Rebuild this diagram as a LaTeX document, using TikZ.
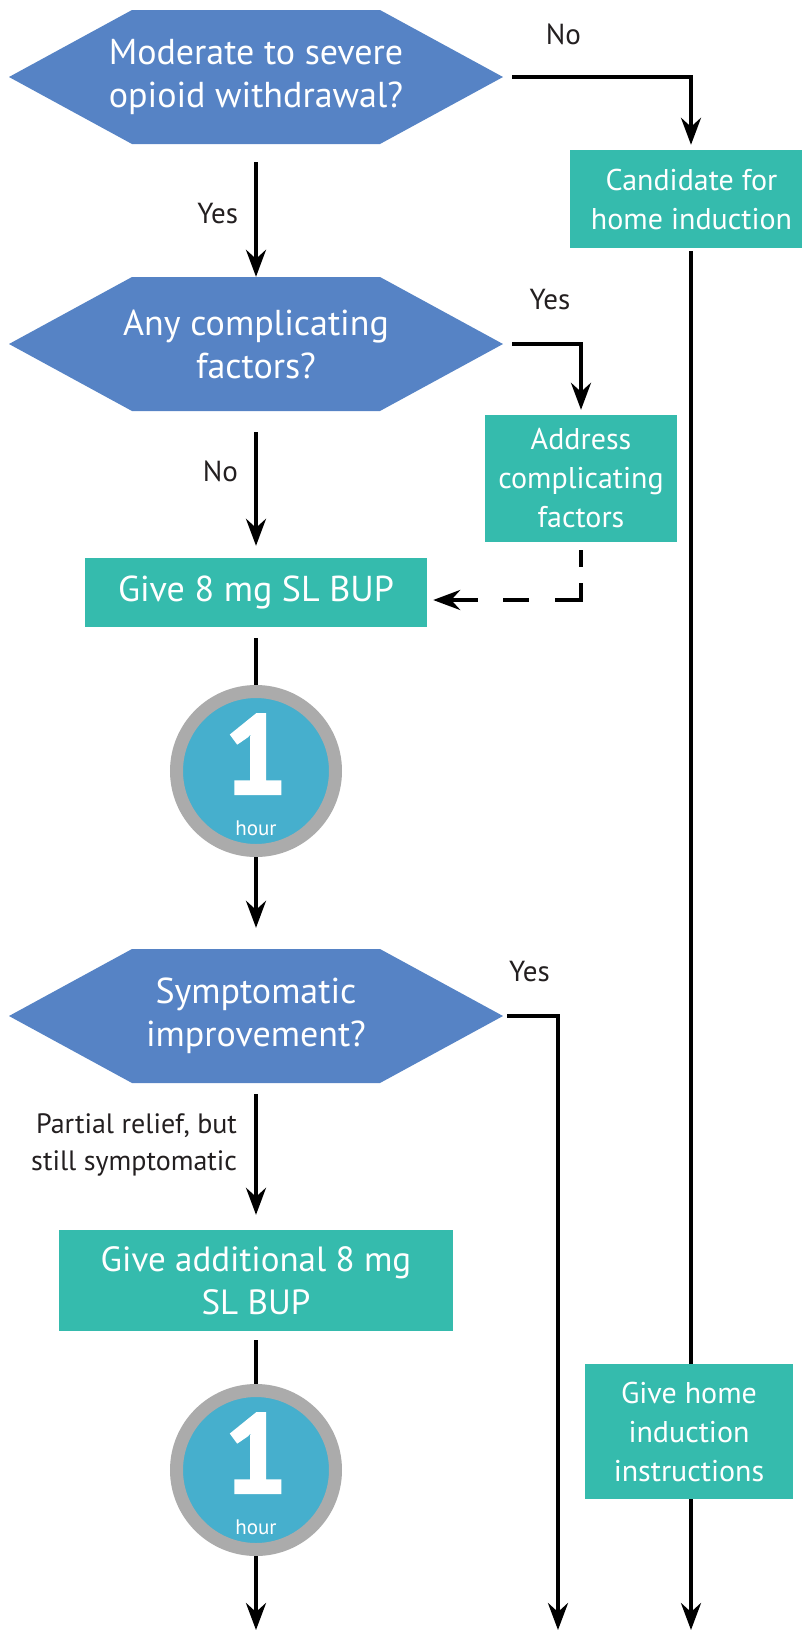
\documentclass[tikz,border=0pt]{standalone}
\usepackage{fontspec}
\setmainfont{PT Sans}
\newfontfamily\numfont{PT Sans}[BoldFeatures={FakeBold=2}]
\usepackage{tikz}
\usetikzlibrary{positioning, calc, arrows.meta}
\definecolor{hexblue}{RGB}{86,131,197}
\definecolor{boxteal}{RGB}{53,187,173}
\definecolor{clockblue}{RGB}{70,175,205}
\definecolor{ringgray}{RGB}{171,171,171}
\definecolor{labelblack}{RGB}{35,31,32}

\tikzset{
  question/.style={fill=white, minimum width=494pt, minimum height=134pt, inner sep=0pt, text=white, align=center,
    font=\fontsize{36}{43}\selectfont,
    path picture={\fill[hexblue] (path picture bounding box.west) -- ($(path picture bounding box.north west)+(123pt,0)$) -- ($(path picture bounding box.north east)+(-123pt,0)$) -- (path picture bounding box.east) -- ($(path picture bounding box.south east)+(-123pt,0)$) -- ($(path picture bounding box.south west)+(123pt,0)$) -- cycle;}},
  action/.style={fill=boxteal, text=white, align=center, inner sep=0pt, font=\fontsize{30}{39}\selectfont},
  clock/.style={circle, fill=clockblue, draw=ringgray, line width=13pt, minimum size=159pt, inner sep=0pt},
  bignum/.style={text=white, font=\numfont\fontsize{112}{112}\selectfont\bfseries, inner sep=0pt},
  hourtxt/.style={text=white, font=\fontsize{21}{21}\selectfont, inner sep=0pt},
  lbl/.style={text=labelblack, font=\fontsize{29}{37}\selectfont, inner sep=0pt, align=right},
  flow/.style={line width=4pt, draw=black},
  arr/.style={flow, -{Stealth[length=27pt, width=20pt, inset=9pt]}},
}

\begin{document}
\begin{tikzpicture}[x=1pt, y=-1pt]
  \useasboundingbox (0,0) rectangle (801,1634);
  \coordinate (rcol) at (691,0);
  \coordinate (ycol) at (558,0);
  \coordinate (bot) at (0,1630);

  \node[question] (withdrawal) at (256,77) {Moderate to severe\\opioid withdrawal?};
  \node[action, minimum width=243pt, minimum height=98pt] (candidate) at (691.5,199) {Candidate for\\home induction};
  \node[question] (complic) at (256,344) {Any complicating\\factors?};
  \node[action, minimum width=192pt, minimum height=127pt] (address) at (581,478.5) {Address\\complicating\\factors};
  \node[action, minimum width=342pt, minimum height=69pt, font=\fontsize{36}{43}\selectfont] (give1) at (256,592.5) {Give 8 mg SL BUP};
  \node[clock] (clock1) at (256,771) {};
  \node[bignum] (one1) at ([yshift=17pt]clock1.center) {1};
  \node[hourtxt] (hour1) at ([yshift=-57pt]clock1.center) {hour};
  \node[question] (improve) at (256,1016) {Symptomatic\\improvement?};
  \node[action, minimum width=394pt, minimum height=101pt, font=\fontsize{35}{43}\selectfont] (give2) at (256,1280.5) {Give additional 8 mg\\SL BUP};
  \node[clock] (clock2) at (256,1470) {};
  \node[bignum] (one2) at ([yshift=17pt]clock2.center) {1};
  \node[hourtxt] (hour2) at ([yshift=-57pt]clock2.center) {hour};
  \node[action, minimum width=208pt, minimum height=135pt] (home) at (689,1431.5) {Give home\\induction\\instructions};

  \draw[arr, shorten <=9pt, shorten >=5pt] (withdrawal.east) -| node[lbl, pos=0.16, above=30pt] {No} (candidate.north -| rcol);
  \draw[arr, shorten <=18pt] (withdrawal.south) -- node[lbl, left=16pt, pos=0.52] {Yes} (complic.north);
  \draw[arr, shorten <=9pt, shorten >=5pt] (complic.east) -| node[lbl, pos=0.3, above=32pt] {Yes} (address.north);
  \draw[flow, shorten <=3pt] (candidate.south -| rcol) -- (home.north -| rcol);
  \draw[arr] (home.south -| rcol) -- (rcol |- bot);
  \draw[arr, shorten <=21pt, shorten >=12pt] (complic.south) -- node[lbl, left=16pt, pos=0.41] {No} (give1.north);
  \draw[arr, dash pattern=on 17pt off 16pt on 43pt off 26pt on 26pt off 25pt on 80pt off 0pt, shorten <=8pt, shorten >=6pt] (address.south) |- ([yshift=-7.5pt]give1.east);
  \draw[flow, shorten <=11pt] (give1.south) -- (clock1.north);
  \draw[arr, shorten >=21pt] (clock1.south) -- (improve.north);
  \draw[arr, shorten <=4pt] (improve.east) -| node[lbl, pos=0.24, above=32pt] {Yes} (ycol |- bot);
  \draw[arr, shorten <=11pt, shorten >=15pt] (improve.south) -- node[lbl, left=17pt, pos=0.42, font=\fontsize{28}{37}\selectfont] {Partial relief, but\\still symptomatic} (give2.north);
  \draw[flow, shorten <=9pt] (give2.south) -- (clock2.north);
  \draw[arr] (clock2.south) -- (clock2.south |- bot);
\end{tikzpicture}
\end{document}
